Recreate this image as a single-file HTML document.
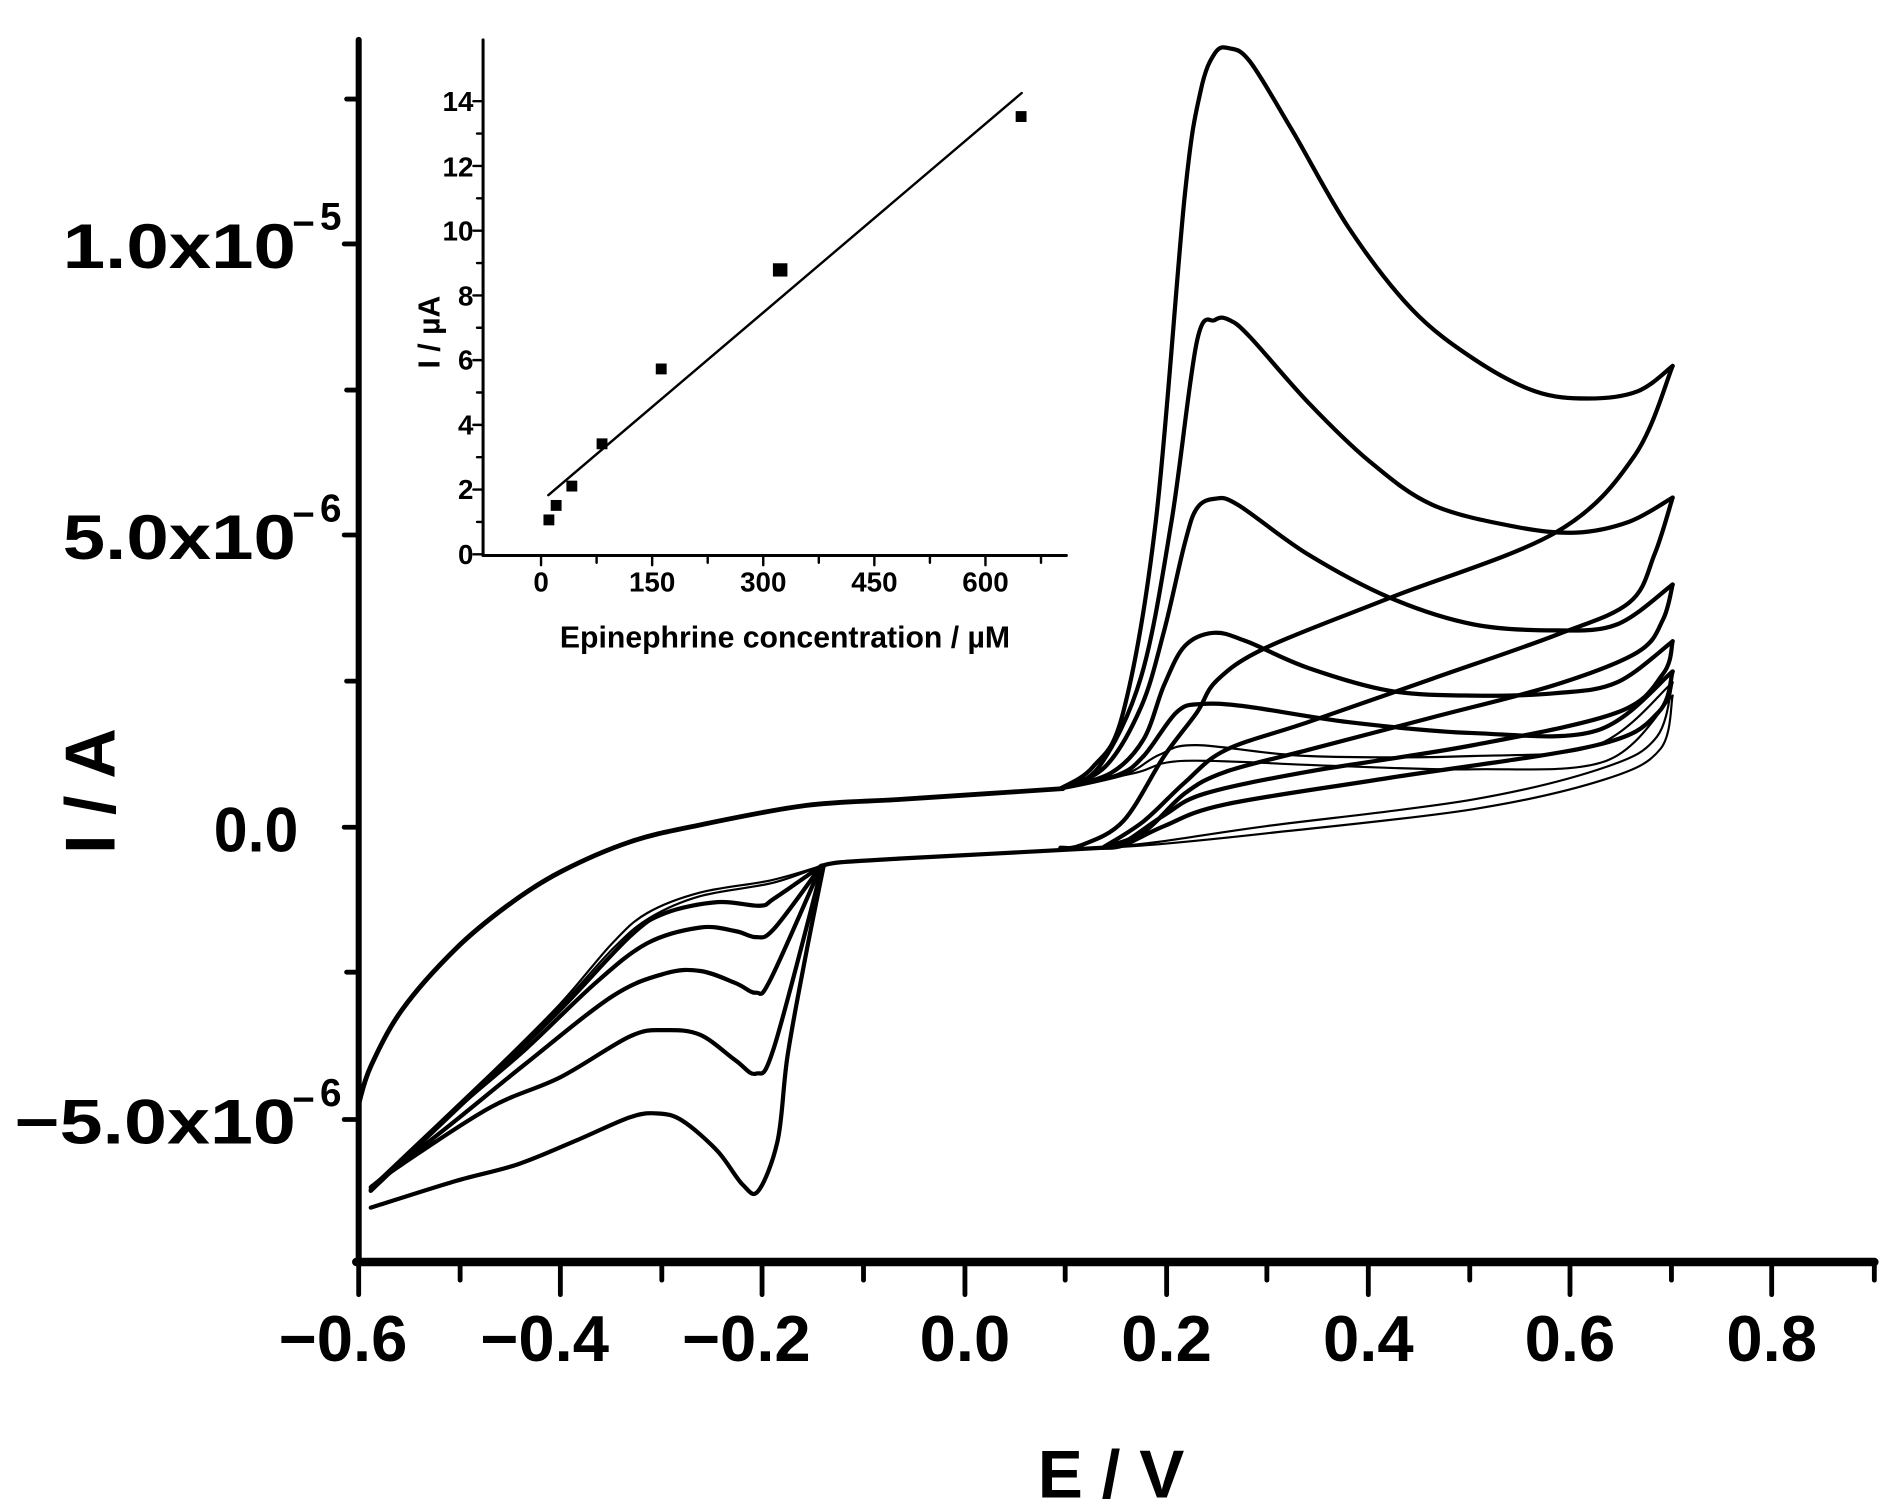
<!DOCTYPE html>
<html><head><meta charset="utf-8"><style>
html,body{margin:0;padding:0;background:#fff}
svg{display:block}
text{font-family:"Liberation Sans",Arial,sans-serif;font-weight:bold;fill:#000}
</style></head><body>
<svg id="s" width="1884" height="1505" viewBox="0 0 1560 1246.2" preserveAspectRatio="none" xmlns="http://www.w3.org/2000/svg">
<g stroke="#000" fill="none" stroke-linecap="round" stroke-linejoin="round">
<line x1="297" y1="33" x2="297" y2="1045" stroke-width="5"/>
<line x1="295" y1="1045" x2="1552" y2="1045" stroke-width="7"/>
<g stroke-width="4">
<line x1="285" y1="202" x2="297" y2="202"/><line x1="285" y1="443" x2="297" y2="443"/>
<line x1="285" y1="685" x2="297" y2="685"/><line x1="285" y1="927" x2="297" y2="927"/>
<line x1="287" y1="82" x2="297" y2="82"/><line x1="287" y1="323" x2="297" y2="323"/>
<line x1="287" y1="564" x2="297" y2="564"/><line x1="287" y1="805" x2="297" y2="805"/>
<line x1="297" y1="1045" x2="297" y2="1072"/><line x1="464" y1="1045" x2="464" y2="1072"/>
<line x1="631" y1="1045" x2="631" y2="1072"/><line x1="799" y1="1045" x2="799" y2="1072"/>
<line x1="966" y1="1045" x2="966" y2="1072"/><line x1="1133" y1="1045" x2="1133" y2="1072"/>
<line x1="1300" y1="1045" x2="1300" y2="1072"/><line x1="1467" y1="1045" x2="1467" y2="1072"/>
<line x1="1552" y1="1045" x2="1552" y2="1060"/>
<line x1="381" y1="1045" x2="381" y2="1060"/><line x1="548" y1="1045" x2="548" y2="1060"/>
<line x1="715" y1="1045" x2="715" y2="1060"/><line x1="882" y1="1045" x2="882" y2="1060"/>
<line x1="1049" y1="1045" x2="1049" y2="1060"/><line x1="1217" y1="1045" x2="1217" y2="1060"/>
<line x1="1384" y1="1045" x2="1384" y2="1060"/>
</g>
<g id="curves"></g>
<line x1="400" y1="33" x2="400" y2="460" stroke-width="2.5"/>
<line x1="400" y1="460" x2="883" y2="460" stroke-width="2.5"/>
<g stroke-width="2" id="itk"></g>
<line x1="454" y1="410" x2="846" y2="77" stroke-width="2"/>
</g>
<g fill="#000">
<rect x="450" y="426" width="9" height="9"/><rect x="456" y="414" width="9" height="9"/>
<rect x="469" y="398" width="9" height="9"/><rect x="494" y="363" width="9" height="9"/>
<rect x="543" y="301" width="9" height="9"/><rect x="640" y="218" width="12" height="11"/>
<rect x="841" y="92" width="9" height="9"/>
</g>
<g font-size="52" text-anchor="end">
<text x="245" y="222" textLength="193" lengthAdjust="spacingAndGlyphs">1.0x10</text>
<text x="245" y="463" textLength="193" lengthAdjust="spacingAndGlyphs">5.0x10</text>
<text x="247" y="705" textLength="70" lengthAdjust="spacingAndGlyphs">0.0</text>
<text x="245" y="947" textLength="233" lengthAdjust="spacingAndGlyphs">−5.0x10</text>
</g>
<g font-size="32">
<text x="242" y="196">−</text><text x="265" y="190">5</text>
<text x="242" y="437">−</text><text x="265" y="432">6</text>
<text x="242" y="921">−</text><text x="265" y="916">6</text>
</g>
<g font-size="54" text-anchor="middle">
<text x="284" y="1127">−0.6</text><text x="451" y="1127">−0.4</text><text x="618" y="1127">−0.2</text>
<text x="799" y="1127">0.0</text><text x="966" y="1127">0.2</text><text x="1133" y="1127">0.4</text>
<text x="1300" y="1127">0.6</text><text x="1467" y="1127">0.8</text>
<text x="920" y="1240" font-size="56">E / V</text>
<text transform="translate(95,655) rotate(-90)" font-size="58">I / A</text>
</g>
<g font-size="23" text-anchor="end">
<text x="392" y="467">0</text><text x="392" y="413">2</text><text x="392" y="360">4</text>
<text x="392" y="306">6</text><text x="392" y="253">8</text><text x="392" y="199">10</text>
<text x="392" y="146">12</text><text x="392" y="92">14</text>
</g>
<g font-size="23" text-anchor="middle">
<text x="448" y="490">0</text><text x="540" y="490">150</text><text x="632" y="490">300</text>
<text x="724" y="490">450</text><text x="816" y="490">600</text>
<text x="650" y="536" font-size="25">Epinephrine concentration / µM</text>
<text transform="translate(364,275) rotate(-90)" font-size="25">I / µA</text>
</g>
</svg>
<script>
function sp(p){var d="M"+p[0][0]+","+p[0][1];for(var i=0;i<p.length-1;i++){var a=p[i-1]||p[i],b=p[i],c=p[i+1],e=p[i+2]||c;
d+=" C"+(b[0]+(c[0]-a[0])/6).toFixed(1)+","+(b[1]+(c[1]-a[1])/6).toFixed(1)+" "+(c[0]-(e[0]-b[0])/6).toFixed(1)+","+(c[1]-(e[1]-b[1])/6).toFixed(1)+" "+c[0]+","+c[1];}return d;}
var C=[
[4,[[297,914],[307,883],[333,836],[377,786],[420,750],[464,722],[522,697],[580,683],[667,667],[744,662],[820,657],[880,653]]],
[3.5,[[744,711],[696,714],[680,717]]],
[3.5,[[913,702],[820,707],[744,711]]],
[3.5,[[878,653],[905,635],[930,590],[957,432],[981,162],[994,76],[1006,44],[1018,40],[1035,51],[1070,108],[1117,189],[1169,256],[1220,297],[1271,324],[1315,330],[1356,324],[1385,303]]],
[3.5,[[1385,303],[1353,378],[1288,441],[1151,495],[1049,536],[1008,563],[991,590],[964,626],[930,680],[895,700],[878,702]]],
[3.5,[[878,653],[910,635],[945,560],[970,432],[991,283],[1006,265],[1018,265],[1035,279],[1083,333],[1134,382],[1186,418],[1254,436],[1305,441],[1349,432],[1385,412]]],
[3.5,[[1385,412],[1370,459],[1349,499],[1288,526],[1186,562],[1083,598],[1015,621],[981,648],[947,680],[913,702]]],
[3.5,[[878,653],[915,635],[945,585],[964,522],[981,450],[991,421],[1006,413],[1025,418],[1083,459],[1151,495],[1220,517],[1288,522],[1339,517],[1385,484]]],
[3.5,[[1385,484],[1377,513],[1356,540],[1288,567],[1186,594],[1083,621],[1015,639],[981,657],[947,689],[913,702]]],
[3.5,[[878,653],[920,640],[947,612],[964,567],[981,535],[1005,524],[1032,531],[1083,553],[1151,572],[1220,576],[1288,574],[1339,565],[1385,531]]],
[3.5,[[1385,531],[1377,558],[1339,590],[1220,617],[1083,639],[998,657],[964,675],[930,698],[913,702]]],
[3.5,[[878,653],[925,642],[947,626],[974,590],[994,583],[1032,585],[1117,598],[1220,607],[1322,605],[1385,556]]],
[3.5,[[1385,556],[1373,590],[1322,617],[1151,644],[1015,666],[964,684],[930,700],[913,702]]],
[1.8,[[878,653],[930,642],[960,625],[991,617],[1083,626],[1220,626],[1322,617],[1385,565]]],
[1.8,[[1385,565],[1372,610],[1330,635],[1220,662],[1049,684],[960,697],[913,702]]],
[1.8,[[878,653],[940,640],[981,630],[1100,634],[1220,637],[1330,630],[1385,576]]],
[1.8,[[1385,576],[1375,620],[1330,645],[1220,670],[1049,690],[960,699],[913,702]]],
[1.8,[[680,717],[638,729],[580,739],[536,756],[507,781],[464,831],[406,889],[307,983]]],
[1.8,[[680,717],[640,731],[580,742],[538,760],[508,785],[464,833],[406,890],[307,984]]],
[3.5,[[680,717],[641,744],[629,750],[594,747],[551,756],[522,775],[464,836],[406,892],[307,986]]],
[3.5,[[680,717],[641,769],[626,776],[609,771],[580,768],[536,781],[493,814],[435,869],[377,919],[307,986]]],
[3.5,[[680,717],[638,811],[626,822],[609,814],[580,804],[551,806],[507,825],[435,881],[377,928],[325,969],[307,985]]],
[3.5,[[681,717],[641,867],[626,889],[609,878],[580,857],[551,853],[522,858],[464,892],[406,917],[333,964],[307,983]]],
[3.5,[[682,717],[667,792],[652,875],[644,944],[628,986],[615,981],[594,953],[565,928],[545,922],[522,925],[478,944],[429,964],[377,978],[307,1000]]]
];
var g=document.getElementById("curves"),h="";
C.forEach(function(c){h+='<path d="'+sp(c[1])+'" stroke-width="'+c[0]+'"/>';});
g.innerHTML=h;
var t="";
for(var v=0;v<=14;v++){var y=459-v*26.8;t+='<line x1="'+(v%2?395:392)+'" y1="'+y+'" x2="400" y2="'+y+'"/>';}
for(var x=0;x<=675;x+=75){var X=448+x*0.6133;t+='<line x1="'+X+'" y1="460" x2="'+X+'" y2="'+(x%150?466:468)+'"/>';}
document.getElementById("itk").innerHTML=t;
</script>
</body></html>
